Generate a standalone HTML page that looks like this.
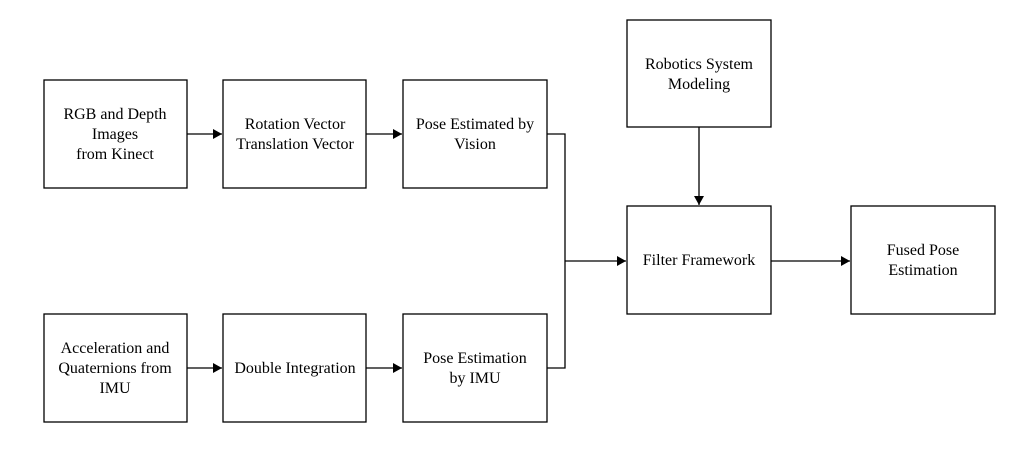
<!DOCTYPE html>
<html><head><style>
html,body{margin:0;padding:0;background:#fff;}
svg{display:block;}
text{font-family:"Liberation Serif",serif;font-size:16px;fill:#000;text-anchor:middle;}
rect{fill:#fff;stroke:#000;stroke-width:1.3;}
line,polyline{stroke:#000;stroke-width:1.3;fill:none;}
</style></head><body>
<svg width="1016" height="469" viewBox="0 0 1016 469">
<defs><marker id="a" markerWidth="12" markerHeight="12" refX="9" refY="5" orient="auto" markerUnits="userSpaceOnUse"><path d="M0,0 L9,5 L0,10 z" fill="#000"/></marker></defs>
<rect x="44" y="80" width="143" height="108"/>
<rect x="223" y="80" width="143" height="108"/>
<rect x="403" y="80" width="144" height="108"/>
<rect x="627" y="20" width="144" height="107"/>
<rect x="627" y="206" width="144" height="108"/>
<rect x="851" y="206" width="144" height="108"/>
<rect x="44" y="314" width="143" height="108"/>
<rect x="223" y="314" width="143" height="108"/>
<rect x="403" y="314" width="144" height="108"/>
<line x1="187" y1="134" x2="222" y2="134" marker-end="url(#a)"/>
<line x1="366" y1="134" x2="402" y2="134" marker-end="url(#a)"/>
<line x1="187" y1="368" x2="222" y2="368" marker-end="url(#a)"/>
<line x1="366" y1="368" x2="402" y2="368" marker-end="url(#a)"/>
<polyline points="547,134 565,134 565,368 547,368"/>
<line x1="565" y1="261" x2="626" y2="261" marker-end="url(#a)"/>
<line x1="699" y1="127" x2="699" y2="205" marker-end="url(#a)"/>
<line x1="771" y1="261" x2="850" y2="261" marker-end="url(#a)"/>
<text x="115" y="119">RGB and Depth</text>
<text x="115" y="139">Images</text>
<text x="115" y="159">from Kinect</text>
<text x="295" y="129">Rotation Vector</text>
<text x="295" y="149">Translation Vector</text>
<text x="475" y="129">Pose Estimated by</text>
<text x="475" y="149">Vision</text>
<text x="699" y="69">Robotics System</text>
<text x="699" y="89">Modeling</text>
<text x="699" y="265">Filter Framework</text>
<text x="923" y="255">Fused Pose</text>
<text x="923" y="275">Estimation</text>
<text x="115" y="353">Acceleration and</text>
<text x="115" y="373">Quaternions from</text>
<text x="115" y="393">IMU</text>
<text x="295" y="373">Double Integration</text>
<text x="475" y="363">Pose Estimation</text>
<text x="475" y="383">by IMU</text>
</svg>
</body></html>
